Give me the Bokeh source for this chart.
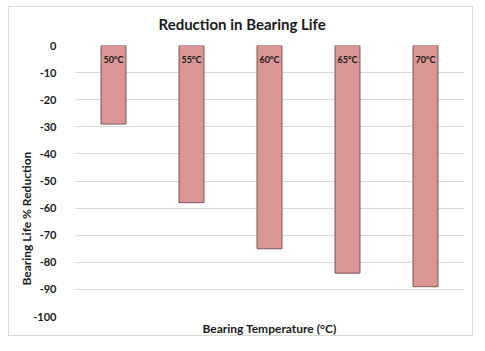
from bokeh.plotting import figure
from bokeh.layouts import column
from bokeh.models import ColumnDataSource, Title, FixedTicker
from bokeh.core.properties import value
from bokeh.embed import file_html
from bokeh.resources import INLINE

temps = ["50°C", "55°C", "60°C", "65°C", "70°C"]
reduction = [-29, -58, -75, -84, -89]
y_ticks = [0, -10, -20, -30, -40, -50, -60, -70, -80, -90, -100]

FONT = "Lato"
TXT = "#1a1a1a"
src = ColumnDataSource(dict(t=temps, r=reduction, ly=[-5] * len(temps)))

p = figure(width=466, height=351, x_range=temps, y_range=(-100, 0),
           output_backend="svg", toolbar_location=None,
           min_border_left=53, min_border_right=21, min_border_top=44, min_border_bottom=35,
           margin=(0, 0, 0, 19))
p.title = None
p.outline_line_color = None
p.border_fill_color = None
p.background_fill_color = "white"

p.vbar(x="t", top=0, bottom="r", width=0.32, source=src,
       fill_color="#d99694", line_color="#7a5656", line_width=1)
p.text(x="t", y="ly", text="t", source=src, text_align="center", text_baseline="middle",
       text_font=value(FONT), text_font_style="bold", text_font_size="9px", text_color=TXT)

p.xaxis.visible = False
p.xgrid.visible = False
p.ygrid.grid_line_color = "#d9d9d9"
p.yaxis.ticker = FixedTicker(ticks=y_ticks)
p.yaxis.major_label_overrides = {t: str(t) for t in y_ticks}
p.yaxis.axis_line_color = None
p.yaxis.major_tick_line_color = None
p.yaxis.minor_tick_line_color = None
p.yaxis.major_label_standoff = 12
p.yaxis.major_label_text_font = FONT
p.yaxis.major_label_text_font_style = "bold"
p.yaxis.major_label_text_font_size = "11px"
p.yaxis.major_label_text_color = TXT

p.add_layout(Title(text="Reduction in Bearing Life", align="left", offset=84,
                   text_font=FONT, text_font_style="bold", text_font_size="15px",
                   text_color=TXT, standoff=25), "above")
p.add_layout(Title(text="Bearing Temperature (°C)", align="center",
                   text_font=FONT, text_font_style="bold", text_font_size="12px",
                   text_color=TXT, standoff=4), "below")
p.add_layout(Title(text="Bearing Life % Reduction", align="left", offset=31,
                   text_font=FONT, text_font_style="bold", text_font_size="12px",
                   text_color=TXT, standoff=-6), "left")

g = "linear-gradient(#d9d9d9,#d9d9d9)"
frame_bg = ", ".join([
    f"{g} 8px 6px / 465px 1px no-repeat",
    f"{g} 8px 335px / 465px 1px no-repeat",
    f"{g} 8px 6px / 1px 330px no-repeat",
    f"{g} 472px 6px / 1px 330px no-repeat",
    "white",
])
layout = column(p, width=485, height=351, styles={"background": frame_bg})

open("out.html", "w").write(file_html(layout, INLINE))
